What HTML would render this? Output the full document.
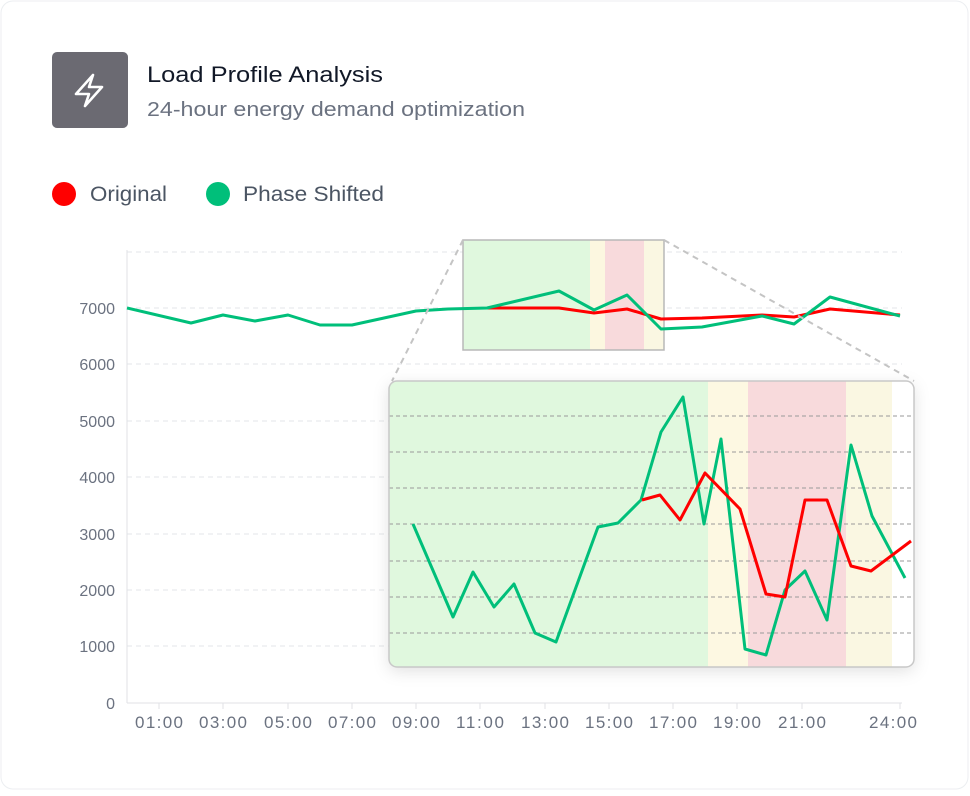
<!DOCTYPE html>
<html><head><meta charset="utf-8"><style>
html,body{margin:0;padding:0;background:#fff;}
body{width:970px;height:791px;overflow:hidden;font-family:"Liberation Sans",sans-serif;}
</style></head><body>
<svg width="970" height="791" xmlns="http://www.w3.org/2000/svg" font-family="Liberation Sans, sans-serif">
<defs>
<filter id="sh" x="-10%" y="-10%" width="120%" height="130%"><feDropShadow dx="0" dy="4" stdDeviation="8" flood-color="#000" flood-opacity="0.12"/></filter>
<clipPath id="ic"><rect x="389" y="381" width="525" height="286" rx="8"/></clipPath>
</defs>
<rect x="1" y="1" width="967" height="788" rx="12" fill="#fff" stroke="#eceef1"/>
<rect x="52" y="52" width="76" height="76" rx="5" fill="#6b6a72"/>
<path d="M93 75 L76 94 L89 94 L85 106 L102 87 L89 87 Z" fill="none" stroke="#fff" stroke-width="2.6" stroke-linejoin="round"/>
<text x="147" y="82" font-size="22" fill="#111827" textLength="236" lengthAdjust="spacingAndGlyphs">Load Profile Analysis</text>
<text x="147" y="116" font-size="20" fill="#6b7280" textLength="378" lengthAdjust="spacingAndGlyphs">24-hour energy demand optimization</text>
<circle cx="64" cy="194" r="12" fill="#ff0000"/>
<text x="90" y="201" font-size="21" fill="#4b5563" textLength="77" lengthAdjust="spacingAndGlyphs">Original</text>
<circle cx="218" cy="194" r="12" fill="#00bf7a"/>
<text x="243" y="201" font-size="21" fill="#4b5563" textLength="141" lengthAdjust="spacingAndGlyphs">Phase Shifted</text>
<g stroke="#e3e5e8" stroke-dasharray="5,4" stroke-width="1">
<line x1="127" x2="902" y1="252" y2="252"/><line x1="127" x2="902" y1="308" y2="308"/><line x1="127" x2="902" y1="364" y2="364"/><line x1="127" x2="902" y1="421" y2="421"/><line x1="127" x2="902" y1="477" y2="477"/><line x1="127" x2="902" y1="534" y2="534"/><line x1="127" x2="902" y1="590" y2="590"/><line x1="127" x2="902" y1="646" y2="646"/>
</g>
<line x1="127" y1="250" x2="127" y2="703" stroke="#e0e2e6"/>
<line x1="127" y1="703" x2="902" y2="703" stroke="#e0e2e6"/>
<g font-size="16" fill="#6b7280" text-anchor="end">
<text x="115" y="709">0</text><text x="115" y="652">1000</text><text x="115" y="596">2000</text><text x="115" y="540">3000</text><text x="115" y="483">4000</text><text x="115" y="427">5000</text><text x="115" y="370">6000</text><text x="115" y="314">7000</text>
</g>
<g font-size="17" fill="#6b7280" text-anchor="middle" lengthAdjust="spacingAndGlyphs">
<text x="159" y="728" textLength="48">01:00</text><text x="223" y="728" textLength="48">03:00</text><text x="288" y="728" textLength="48">05:00</text><text x="352" y="728" textLength="48">07:00</text><text x="416" y="728" textLength="48">09:00</text><text x="480" y="728" textLength="48">11:00</text><text x="545" y="728" textLength="48">13:00</text><text x="609" y="728" textLength="48">15:00</text><text x="673" y="728" textLength="48">17:00</text><text x="737" y="728" textLength="48">19:00</text><text x="802" y="728" textLength="48">21:00</text><text x="893" y="728" textLength="48">24:00</text>
</g>
<g stroke="#e0e2e6"><line x1="159" y1="703" x2="159" y2="709"/><line x1="223" y1="703" x2="223" y2="709"/><line x1="288" y1="703" x2="288" y2="709"/><line x1="352" y1="703" x2="352" y2="709"/><line x1="416" y1="703" x2="416" y2="709"/><line x1="480" y1="703" x2="480" y2="709"/><line x1="545" y1="703" x2="545" y2="709"/><line x1="609" y1="703" x2="609" y2="709"/><line x1="673" y1="703" x2="673" y2="709"/><line x1="737" y1="703" x2="737" y2="709"/><line x1="802" y1="703" x2="802" y2="709"/><line x1="900" y1="703" x2="900" y2="709"/></g>
<rect x="463" y="240" width="127" height="110" fill="#e0f8de"/>
<rect x="590" y="240" width="15" height="110" fill="#fcf7e0"/>
<rect x="605" y="240" width="39" height="110" fill="#f8dadc"/>
<rect x="644" y="240" width="20" height="110" fill="#faf7e2"/>
<rect x="463" y="240" width="201" height="110" fill="none" stroke="#b8b8b8" stroke-width="1.5"/>
<polyline fill="none" stroke="#ff0000" stroke-width="3" stroke-linejoin="round" points="487,308 559,308 594,313 627,309 661,319 702,318 762,315 794,317 830,309 900,315"/>
<polyline fill="none" stroke="#00bf7a" stroke-width="3" stroke-linejoin="round" points="127,308 191,323 223,315 255,321 288,315 320,325 352,325 384,318 416,311 448,309 487,308 559,291 594,310 627,295 661,329 702,327 762,316 794,324 830,297 900,316"/>
<g stroke="#c4c4c4" stroke-width="2" stroke-dasharray="6,5"><line x1="463" y1="240" x2="392" y2="381"/><line x1="664" y1="240" x2="914" y2="381"/></g>
<rect x="389" y="381" width="525" height="286" rx="8" fill="#fff" filter="url(#sh)"/>
<g clip-path="url(#ic)">
<rect x="389" y="381" width="319" height="286" fill="#e0f8de"/>
<rect x="708" y="381" width="40" height="286" fill="#fdf8e2"/>
<rect x="748" y="381" width="98" height="286" fill="#f8dadc"/>
<rect x="846" y="381" width="46" height="286" fill="#faf7e2"/>
<g stroke="#9a9a9a" stroke-dasharray="4,3" stroke-width="1">
<line x1="389" x2="914" y1="416" y2="416"/><line x1="389" x2="914" y1="452" y2="452"/><line x1="389" x2="914" y1="488" y2="488"/><line x1="389" x2="914" y1="524" y2="524"/><line x1="389" x2="914" y1="561" y2="561"/><line x1="389" x2="914" y1="597" y2="597"/><line x1="389" x2="914" y1="633" y2="633"/>
</g>
<polyline fill="none" stroke="#00bf7a" stroke-width="3" stroke-linejoin="round" points="413,524 453,617 473,572 494,607 514,584 535,633 556,642 598,527 618,523 641,500 661,432 683,397 704,524 721,439 745,649 766,655 785,590 805,571 827,620 851,445 872,516 905,578"/>
<polyline fill="none" stroke="#ff0000" stroke-width="3" stroke-linejoin="round" points="642,500 660,495 680,520 705,473 740,509 766,594 785,597 805,500 827,500 851,566 871,571 911,541"/>
</g>
<rect x="389" y="381" width="525" height="286" rx="8" fill="none" stroke="#c8c8c8" stroke-width="1.5"/>
</svg>
</body></html>
